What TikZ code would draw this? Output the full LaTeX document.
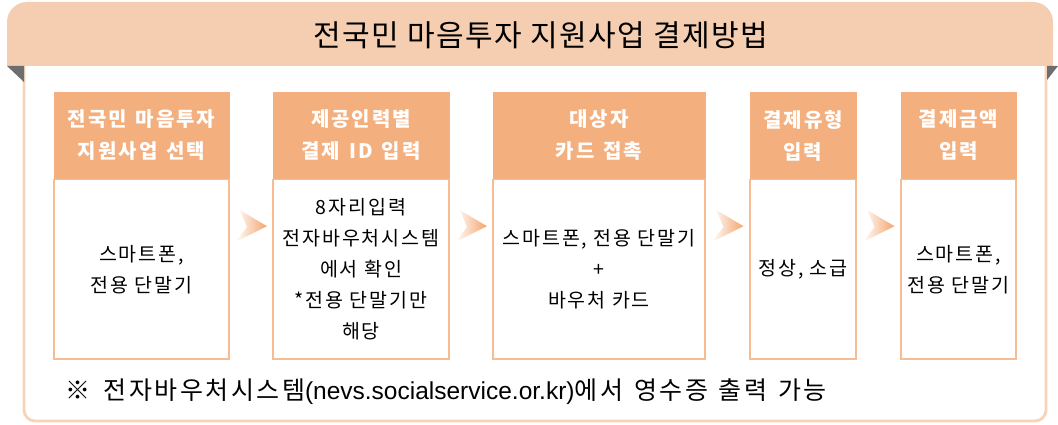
\documentclass[tikz,border=0pt]{standalone}
\usepackage{fontspec}
\setmainfont{Noto Sans CJK KR}
\newfontfamily\latinpart{Liberation Sans}
\newfontfamily\hdrfont[LetterSpace=10,WordSpace=1.25]{Noto Sans CJK KR}
\newfontfamily\notefont[LetterSpace=10,WordSpace=1.35]{Noto Sans CJK KR}
\usetikzlibrary{calc}
\definecolor{bandc}{HTML}{F5CDB0}
\definecolor{hdrc}{HTML}{F4AF7F}
\definecolor{boxc}{HTML}{F8BC95}
\definecolor{panelc}{HTML}{F7D3B8}
\definecolor{trianglec}{HTML}{6E6E6E}
\definecolor{arrowc}{HTML}{F3A46C}
\tikzset{
  hdr/.style={fill=hdrc, draw=hdrc, text=white, align=center, inner sep=0pt,
    font=\hdrfont\fontsize{20}{32}\selectfont\bfseries},
  bodybox/.style={draw=boxc, line width=1.3pt, fill=white, align=center, inner sep=0pt,
    font=\fontsize{19.5}{31}\selectfont\addfontfeatures{LetterSpace=10}},
  chev/.style={left color=white, right color=arrowc},
}
\begin{document}
\begin{tikzpicture}[x=1pt,y=-1pt]
\useasboundingbox (0,0) rectangle (1058,425);
% panel
\draw[panelc, line width=2.8pt, rounded corners=11pt] (24,60) -- (24,421) -- (1046,421) -- (1046,60);
% header band
\fill[bandc, rounded corners=20pt] (7,2) rectangle (1053,66);
\fill[bandc] (7,40) rectangle (1053,66);
\node[font=\fontsize{30}{32}\selectfont\addfontfeatures{LetterSpace=5}] (title) at (541,35) {전국민 마음투자 지원사업 결제방법};
% folded corners
\fill[trianglec] (7,66) -- (24,66) -- (24,82) -- cycle;
\fill[trianglec] (1047,66) -- (1058,66) -- (1047,80) -- cycle;
% boxes
\node[hdr, minimum width=175pt, minimum height=87pt] (h1) at (141.5,135.5) {전국민 마음투자\\지원사업 선택};
\node[bodybox, minimum width=175pt, minimum height=179pt, anchor=north] (b1) at (h1.south) {스마트폰,\\전용 단말기};
\node[hdr, minimum width=176pt, minimum height=87pt] (h2) at (361,135.5) {제공인력별\\결제 ID 입력};
\node[bodybox, minimum width=176pt, minimum height=179pt, anchor=north] (b2) at (h2.south) {8자리입력\\전자바우처시스템\\에서 확인\\*전용 단말기만\\해당};
\node[hdr, minimum width=212pt, minimum height=87pt] (h3) at (599,135.5) {대상자\\카드 접촉};
\node[bodybox, minimum width=212pt, minimum height=179pt, anchor=north] (b3) at (h3.south) {스마트폰, 전용 단말기\\+\\바우처 카드};
\node[hdr, minimum width=106pt, minimum height=87pt] (h4) at (803,135.5) {결제유형\\입력};
\node[bodybox, minimum width=106pt, minimum height=179pt, anchor=north] (b4) at (h4.south) {정상, 소급};
\node[hdr, minimum width=115pt, minimum height=87pt] (h5) at (958.5,135.5) {결제금액\\입력};
\node[bodybox, minimum width=115pt, minimum height=179pt, anchor=north] (b5) at (h5.south) {스마트폰,\\전용 단말기};
% chevrons
\foreach \a/\b in {b1/b2,b2/b3,b3/b4,b4/b5}{
  \coordinate (m) at ($(\a.north east)!0.5!(\b.north west)+(0,47)$);
  \shade[chev] ($(m)+(-11,-16)$) -- ($(m)+(16,0)$) -- ($(m)+(-16,16)$) -- ($(m)+(-4,1)$) -- cycle;
}
% footer
\node[anchor=west, font=\notefont\fontsize{25}{28}\selectfont] (note) at (62,392) {※\hspace{13pt}전자바우처시스템{\latinpart\fontsize{24.5}{28}\selectfont(nevs.socialservice.or.kr)}에서 영수증 출력 가능};
\end{tikzpicture}
\end{document}
